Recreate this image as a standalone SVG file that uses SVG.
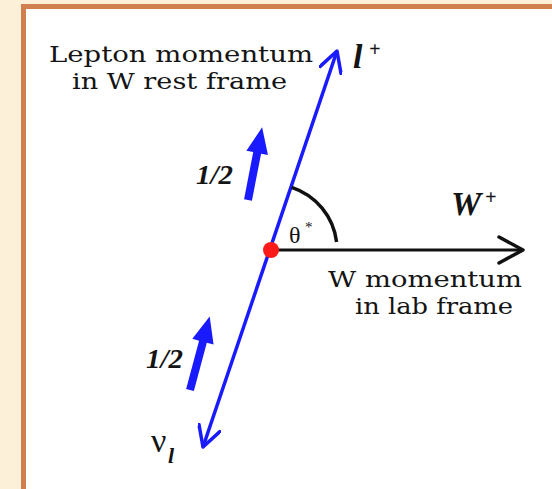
<svg xmlns="http://www.w3.org/2000/svg" width="552" height="489" viewBox="0 0 552 489">
<style>
.t{font-family:"DejaVu Serif","Liberation Serif",serif;fill:#141414}
.s{font-family:"Liberation Serif","Times New Roman",serif;fill:#141414}
.bi{font-style:italic;font-weight:bold}
</style>
<defs>
<marker id="bh" viewBox="0 0 24 24" refX="22" refY="12" markerWidth="24" markerHeight="24" markerUnits="userSpaceOnUse" orient="auto-start-reverse">
<path d="M2,1 L22,12 L2,23" fill="none" stroke="#1a1aff" stroke-width="3.5" stroke-linecap="round" stroke-linejoin="round"/>
</marker>
<marker id="kh" viewBox="0 0 28 30" refX="26" refY="15" markerWidth="28" markerHeight="30" markerUnits="userSpaceOnUse" orient="auto">
<path d="M2,2 L26,15 L2,28" fill="none" stroke="#111" stroke-width="3.5" stroke-linecap="round" stroke-linejoin="round"/>
</marker>
</defs>
<rect x="0" y="0" width="552" height="489" fill="#fdf0d9"/>
<rect x="23.5" y="6.5" width="600" height="600" fill="#ffffff" stroke="#d0804f" stroke-width="5"/>
<g id="connectors">
<line id="lepton-axis" x1="203" y1="447" x2="337" y2="51" stroke="#1a1aff" stroke-width="3.5" marker-start="url(#bh)" marker-end="url(#bh)"/>
<line id="w-axis" x1="271" y1="250" x2="523" y2="250" stroke="#111" stroke-width="3" marker-end="url(#kh)"/>
<path id="theta-arc" d="M291.7,187.3 A66,66 0 0 1 336.6,242" fill="none" stroke="#111" stroke-width="3.5"/>
</g>
<g id="spin-upper">
<path transform="translate(248,200) rotate(11)" d="M-4,0 L4,0 L4,-48 L11,-48 L0,-74 L-11,-48 L-4,-48 Z" fill="#1a1aff"/>
<text class="s bi" x="196" y="184" font-size="28" textLength="37" lengthAdjust="spacingAndGlyphs">1/2</text>
</g>
<g id="spin-lower">
<path transform="translate(190,390) rotate(15)" d="M-4,0 L4,0 L4,-50 L11,-50 L0,-76 L-11,-50 L-4,-50 Z" fill="#1a1aff"/>
<text class="s bi" x="146" y="368" font-size="28" textLength="37" lengthAdjust="spacingAndGlyphs">1/2</text>
</g>
<g id="origin">
<circle cx="271" cy="250" r="8" fill="#ff1a1a"/>
</g>
<g id="theta-label">
<text class="s" x="289" y="243" font-size="24">θ</text>
<text class="s" x="305" y="232" font-size="15">*</text>
</g>
<g id="lepton-label">
<text class="t" x="49" y="62" font-size="23" textLength="264" lengthAdjust="spacingAndGlyphs">Lepton momentum</text>
<text class="t" x="72" y="89" font-size="23" textLength="215" lengthAdjust="spacingAndGlyphs">in W rest frame</text>
</g>
<g id="lplus-label">
<text class="s bi" x="353" y="68" font-size="34">l</text>
<text class="s bi" x="369" y="56" font-size="20">+</text>
</g>
<g id="wplus-label">
<text class="s bi" x="451" y="215" font-size="34">W</text>
<text class="s bi" x="485" y="204" font-size="20">+</text>
</g>
<g id="wmom-label">
<text class="t" x="328" y="287" font-size="23" textLength="194" lengthAdjust="spacingAndGlyphs">W momentum</text>
<text class="t" x="355" y="314" font-size="23" textLength="158" lengthAdjust="spacingAndGlyphs">in lab frame</text>
</g>
<g id="nu-label">
<text class="s" x="151" y="452" font-size="34">ν</text>
<text class="s bi" x="168" y="463" font-size="22">l</text>
</g>
</svg>
